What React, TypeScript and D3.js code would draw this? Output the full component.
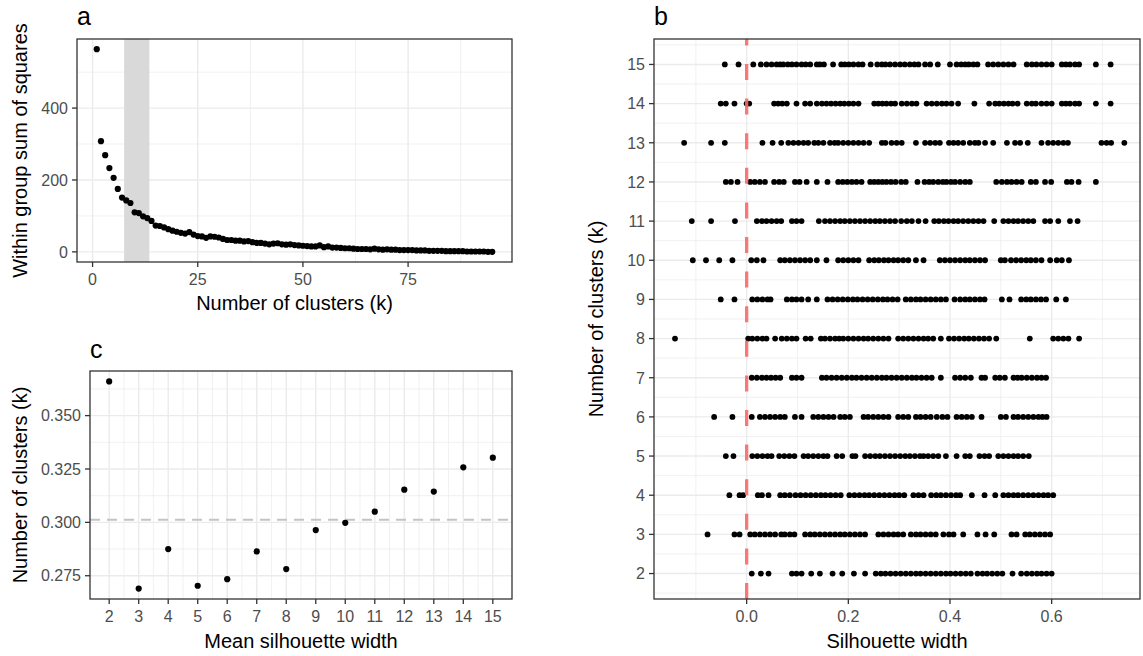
import React from 'react';
import * as d3 from 'd3';

// panel a: within group sum of squares for k = 1..95
const wss = [
  564, 308, 269, 233, 206, 175, 151, 143, 136, 110, 108, 99, 94, 86, 73, 72, 68, 63, 59, 56,
  53, 51, 55, 48, 44, 43, 39, 43, 42, 40, 36, 33, 33, 31, 31, 29, 30, 27, 25, 25,
  23, 21, 23, 24, 21, 20, 21, 19, 18, 17, 16, 15, 15, 18, 13, 15, 12, 12, 11, 10,
  10, 9, 8, 8, 8, 7, 9, 7, 6, 7, 6, 6, 5, 5, 5, 5, 4, 4, 4, 3,
  3, 3, 3, 2, 2, 2, 2, 2, 1, 1, 1, 1, 1, 0, 0,
];
const wssTicksX = [0, 25, 50, 75];
const wssTicksY = [0, 200, 400];
const elbowBand = [7.5, 13.5];

// panel c: mean silhouette width by k
const meanK = [2, 3, 4, 5, 6, 7, 8, 9, 10, 11, 12, 13, 14, 15];
const meanSil = [0.366, 0.269, 0.2875, 0.2703, 0.2734, 0.2864, 0.2781, 0.2964, 0.2998, 0.305, 0.3153, 0.3144, 0.3258, 0.3303];
const meanTicksY = [0.275, 0.3, 0.325, 0.35];

// panel b: silhouette width of every observation, by k
const sil15 = [-0.043, -0.016, 0.013, 0.028, 0.039, 0.049, 0.059, 0.066, 0.072, 0.081, 0.089, 0.098, 0.108, 0.116, 0.125, 0.138, 0.144, 0.152, 0.17, 0.186, 0.193, 0.201, 0.21, 0.22, 0.228, 0.244, 0.257, 0.266, 0.273, 0.282, 0.292, 0.302, 0.311, 0.321, 0.33, 0.338, 0.351, 0.361, 0.376, 0.4, 0.413, 0.422, 0.43, 0.437, 0.446, 0.454, 0.475, 0.485, 0.495, 0.505, 0.515, 0.525, 0.551, 0.561, 0.57, 0.58, 0.59, 0.6, 0.62, 0.628, 0.636, 0.646, 0.654, 0.687, 0.716];
const sil14 = [-0.051, -0.041, -0.024, 0.0, 0.005, 0.054, 0.062, 0.07, 0.079, 0.098, 0.115, 0.125, 0.138, 0.148, 0.157, 0.166, 0.175, 0.184, 0.192, 0.201, 0.21, 0.22, 0.251, 0.259, 0.267, 0.275, 0.284, 0.292, 0.305, 0.315, 0.325, 0.334, 0.354, 0.364, 0.374, 0.384, 0.393, 0.403, 0.416, 0.448, 0.477, 0.489, 0.497, 0.506, 0.515, 0.523, 0.533, 0.551, 0.561, 0.569, 0.58, 0.59, 0.6, 0.62, 0.628, 0.636, 0.646, 0.654, 0.687, 0.716];
const sil13 = [-0.123, -0.07, -0.043, 0.031, 0.051, 0.068, 0.082, 0.092, 0.102, 0.112, 0.121, 0.133, 0.141, 0.151, 0.164, 0.173, 0.18, 0.19, 0.2, 0.21, 0.22, 0.23, 0.241, 0.266, 0.273, 0.285, 0.295, 0.305, 0.333, 0.351, 0.361, 0.371, 0.38, 0.398, 0.407, 0.416, 0.426, 0.439, 0.449, 0.456, 0.469, 0.485, 0.512, 0.528, 0.538, 0.553, 0.58, 0.593, 0.603, 0.613, 0.623, 0.632, 0.698, 0.708, 0.717, 0.743];
const sil12 = [-0.041, -0.031, -0.018, 0.007, 0.016, 0.026, 0.036, 0.054, 0.064, 0.073, 0.095, 0.104, 0.118, 0.138, 0.159, 0.18, 0.189, 0.198, 0.207, 0.216, 0.226, 0.243, 0.251, 0.259, 0.267, 0.275, 0.284, 0.293, 0.304, 0.313, 0.336, 0.35, 0.359, 0.367, 0.377, 0.386, 0.393, 0.402, 0.41, 0.42, 0.43, 0.439, 0.491, 0.502, 0.512, 0.521, 0.531, 0.541, 0.559, 0.569, 0.587, 0.599, 0.63, 0.639, 0.653, 0.687];
const sil11 = [-0.108, -0.07, -0.023, 0.02, 0.03, 0.039, 0.049, 0.059, 0.068, 0.089, 0.098, 0.108, 0.142, 0.154, 0.164, 0.174, 0.184, 0.193, 0.203, 0.213, 0.223, 0.233, 0.243, 0.253, 0.262, 0.272, 0.282, 0.292, 0.304, 0.315, 0.325, 0.338, 0.352, 0.369, 0.378, 0.388, 0.397, 0.407, 0.416, 0.426, 0.436, 0.446, 0.456, 0.466, 0.487, 0.505, 0.515, 0.525, 0.534, 0.544, 0.554, 0.564, 0.587, 0.597, 0.613, 0.636, 0.651];
const sil10 = [-0.106, -0.08, -0.054, -0.028, 0.009, 0.02, 0.033, 0.066, 0.075, 0.085, 0.095, 0.105, 0.115, 0.125, 0.138, 0.157, 0.18, 0.19, 0.2, 0.21, 0.22, 0.241, 0.251, 0.26, 0.27, 0.279, 0.289, 0.298, 0.308, 0.318, 0.333, 0.348, 0.38, 0.39, 0.4, 0.41, 0.42, 0.43, 0.439, 0.449, 0.459, 0.469, 0.5, 0.508, 0.52, 0.53, 0.54, 0.55, 0.559, 0.569, 0.58, 0.597, 0.61, 0.62, 0.634];
const sil9 = [-0.051, -0.024, 0.011, 0.021, 0.031, 0.041, 0.047, 0.079, 0.089, 0.098, 0.108, 0.121, 0.138, 0.159, 0.169, 0.179, 0.189, 0.199, 0.209, 0.218, 0.228, 0.238, 0.248, 0.258, 0.268, 0.277, 0.287, 0.297, 0.313, 0.323, 0.333, 0.342, 0.352, 0.362, 0.372, 0.382, 0.392, 0.409, 0.42, 0.43, 0.439, 0.449, 0.459, 0.468, 0.502, 0.517, 0.54, 0.55, 0.559, 0.569, 0.579, 0.589, 0.609, 0.628];
const sil8 = [-0.141, 0.003, 0.011, 0.021, 0.031, 0.039, 0.056, 0.069, 0.079, 0.089, 0.098, 0.116, 0.126, 0.146, 0.154, 0.164, 0.174, 0.182, 0.19, 0.2, 0.21, 0.22, 0.23, 0.239, 0.249, 0.259, 0.269, 0.279, 0.298, 0.308, 0.318, 0.328, 0.338, 0.348, 0.357, 0.367, 0.382, 0.398, 0.408, 0.418, 0.428, 0.437, 0.447, 0.457, 0.467, 0.477, 0.491, 0.557, 0.603, 0.613, 0.623, 0.633, 0.654];
const sil7 = [0.01, 0.02, 0.03, 0.039, 0.048, 0.057, 0.066, 0.089, 0.098, 0.108, 0.148, 0.157, 0.167, 0.177, 0.187, 0.197, 0.207, 0.216, 0.226, 0.236, 0.246, 0.256, 0.266, 0.275, 0.285, 0.295, 0.305, 0.315, 0.325, 0.334, 0.344, 0.354, 0.364, 0.382, 0.41, 0.42, 0.43, 0.441, 0.462, 0.469, 0.489, 0.498, 0.508, 0.525, 0.533, 0.541, 0.551, 0.561, 0.571, 0.58, 0.589];
const sil6 = [-0.064, -0.028, 0.01, 0.026, 0.036, 0.046, 0.056, 0.066, 0.075, 0.095, 0.108, 0.131, 0.141, 0.151, 0.161, 0.171, 0.184, 0.193, 0.203, 0.23, 0.239, 0.249, 0.259, 0.269, 0.279, 0.298, 0.308, 0.318, 0.333, 0.342, 0.352, 0.362, 0.374, 0.385, 0.395, 0.413, 0.423, 0.433, 0.443, 0.462, 0.5, 0.51, 0.525, 0.534, 0.544, 0.554, 0.564, 0.574, 0.582, 0.59];
const sil5 = [-0.041, -0.026, 0.011, 0.021, 0.031, 0.041, 0.049, 0.064, 0.074, 0.084, 0.094, 0.112, 0.121, 0.131, 0.141, 0.151, 0.159, 0.177, 0.188, 0.208, 0.214, 0.233, 0.243, 0.253, 0.262, 0.272, 0.282, 0.292, 0.302, 0.312, 0.321, 0.331, 0.341, 0.348, 0.357, 0.367, 0.377, 0.392, 0.413, 0.43, 0.439, 0.458, 0.468, 0.477, 0.495, 0.505, 0.515, 0.525, 0.534, 0.544, 0.555];
const sil4 = [-0.034, -0.014, -0.007, 0.022, 0.03, 0.043, 0.066, 0.075, 0.085, 0.096, 0.106, 0.116, 0.126, 0.136, 0.146, 0.155, 0.165, 0.175, 0.185, 0.202, 0.212, 0.222, 0.232, 0.241, 0.251, 0.261, 0.271, 0.281, 0.291, 0.3, 0.31, 0.328, 0.338, 0.348, 0.363, 0.373, 0.382, 0.392, 0.402, 0.412, 0.42, 0.443, 0.468, 0.489, 0.505, 0.515, 0.525, 0.534, 0.544, 0.554, 0.564, 0.574, 0.584, 0.593, 0.603];
const sil3 = [-0.077, -0.024, -0.014, 0.007, 0.016, 0.026, 0.036, 0.046, 0.056, 0.068, 0.075, 0.085, 0.094, 0.115, 0.125, 0.134, 0.144, 0.154, 0.164, 0.174, 0.184, 0.193, 0.203, 0.213, 0.223, 0.233, 0.259, 0.269, 0.279, 0.289, 0.298, 0.308, 0.323, 0.333, 0.342, 0.352, 0.362, 0.372, 0.387, 0.398, 0.407, 0.426, 0.454, 0.47, 0.487, 0.521, 0.531, 0.548, 0.557, 0.567, 0.577, 0.587, 0.597];
const sil2 = [0.01, 0.028, 0.043, 0.089, 0.098, 0.108, 0.127, 0.144, 0.169, 0.188, 0.211, 0.233, 0.254, 0.264, 0.273, 0.283, 0.293, 0.303, 0.313, 0.323, 0.333, 0.342, 0.352, 0.362, 0.372, 0.382, 0.392, 0.401, 0.411, 0.421, 0.431, 0.441, 0.454, 0.464, 0.473, 0.483, 0.493, 0.503, 0.523, 0.54, 0.551, 0.561, 0.571, 0.58, 0.59, 0.6];
const silRows = [
  { k: 15, values: sil15 }, { k: 14, values: sil14 }, { k: 13, values: sil13 }, { k: 12, values: sil12 },
  { k: 11, values: sil11 }, { k: 10, values: sil10 }, { k: 9, values: sil9 }, { k: 8, values: sil8 },
  { k: 7, values: sil7 }, { k: 6, values: sil6 }, { k: 5, values: sil5 }, { k: 4, values: sil4 },
  { k: 3, values: sil3 }, { k: 2, values: sil2 },
];
const silTicksX = [0, 0.2, 0.4, 0.6];
const silTicksY = [2, 3, 4, 5, 6, 7, 8, 9, 10, 11, 12, 13, 14, 15];

const FONT = "'Liberation Sans', Arial, Helvetica, sans-serif";
const GRID = '#ebebeb';
const BORDER = '#333333';
const TICK_TXT = '#4d4d4d';

const VGrid = ({ x, vals, top, bottom, w }) => (
  <g>
    {vals.map((v, i) => (
      <line key={i} x1={x(v)} x2={x(v)} y1={top} y2={bottom} stroke={GRID} strokeWidth={w} />
    ))}
  </g>
);
const HGrid = ({ y, vals, left, right, w }) => (
  <g>
    {vals.map((v, i) => (
      <line key={i} x1={left} x2={right} y1={y(v)} y2={y(v)} stroke={GRID} strokeWidth={w} />
    ))}
  </g>
);

// ticks + labels on the left and bottom of a panel box
const Axes = ({ x, y, xTicks, yTicks, left, right, top, bottom, fmtX, fmtY }) => (
  <g fontFamily={FONT}>
    <rect x={left} y={top} width={right - left} height={bottom - top} fill="none" stroke={BORDER} strokeWidth={1.3} />
    {xTicks.map((t, i) => (
      <g key={'x' + i}>
        <line x1={x(t)} x2={x(t)} y1={bottom} y2={bottom + 5} stroke={BORDER} strokeWidth={1.3} />
        <text x={x(t)} y={bottom + 23} textAnchor="middle" fontSize={16} fill={TICK_TXT}>{fmtX(t)}</text>
      </g>
    ))}
    {yTicks.map((t, i) => (
      <g key={'y' + i}>
        <line x1={left - 5} x2={left} y1={y(t)} y2={y(t)} stroke={BORDER} strokeWidth={1.3} />
        <text x={left - 9} y={y(t)} dy="0.36em" textAnchor="end" fontSize={16} fill={TICK_TXT}>{fmtY(t)}</text>
      </g>
    ))}
  </g>
);

const App = () => {
  // ---------- panel a ----------
  const aL = 77, aR = 512, aT = 39, aB = 262;
  const ax = d3.scaleLinear().domain([-3.7, 99.7]).range([aL, aR]);
  const ay = d3.scaleLinear().domain([-28.2, 592.2]).range([aB, aT]);

  // ---------- panel c ----------
  const cL = 90, cR = 512, cT = 371, cB = 599;
  const cx = d3.scaleLinear().domain([1.35, 15.65]).range([cL, cR]);
  const cy = d3.scaleLinear().domain([0.2641, 0.3709]).range([cB, cT]);
  const silMean = d3.mean(meanSil);

  // ---------- panel b ----------
  const bL = 654, bR = 1140, bT = 39, bB = 599;
  const bx = d3.scaleLinear().domain([-0.1823, 0.7738]).range([bL, bR]);
  const by = d3.scaleLinear().domain([1.35, 15.65]).range([bB, bT]);

  return (
    <svg width={1143} height={656} style={{ position: 'absolute', left: 0, top: 0, background: '#fff' }} fontFamily={FONT}>
      <rect width={1143} height={656} fill="#fff" />

      {/* panel a */}
      <VGrid x={ax} vals={[12.5, 37.5, 62.5, 87.5]} top={aT} bottom={aB} w={0.7} />
      <HGrid y={ay} vals={[100, 300, 500]} left={aL} right={aR} w={0.7} />
      <VGrid x={ax} vals={wssTicksX} top={aT} bottom={aB} w={1.4} />
      <HGrid y={ay} vals={wssTicksY} left={aL} right={aR} w={1.4} />
      <rect x={ax(elbowBand[0])} y={aT} width={ax(elbowBand[1]) - ax(elbowBand[0])} height={aB - aT} fill="#d9d9d9" />
      {wss.map((v, i) => (
        <circle key={i} cx={ax(i + 1)} cy={ay(v)} r={3.1} fill="#000" />
      ))}
      <Axes x={ax} y={ay} xTicks={wssTicksX} yTicks={wssTicksY} left={aL} right={aR} top={aT} bottom={aB}
        fmtX={(t) => String(t)} fmtY={(t) => String(t)} />
      <text x={aL} y={25} fontSize={25}>a</text>
      <text x={(aL + aR) / 2} y={310} textAnchor="middle" fontSize={20}>Number of clusters (k)</text>
      <text transform={`translate(27,${(aT + aB) / 2}) rotate(-90)`} textAnchor="middle" fontSize={20}>Within group sum of squares</text>

      {/* panel c */}
      <VGrid x={cx} vals={d3.range(2.5, 15, 1)} top={cT} bottom={cB} w={0.7} />
      <HGrid y={cy} vals={[0.2875, 0.3125, 0.3375, 0.3625]} left={cL} right={cR} w={0.7} />
      <VGrid x={cx} vals={meanK} top={cT} bottom={cB} w={1.4} />
      <HGrid y={cy} vals={meanTicksY} left={cL} right={cR} w={1.4} />
      <line x1={cL} x2={cR} y1={cy(silMean)} y2={cy(silMean)} stroke="#c4c4c4" strokeWidth={2} strokeDasharray="10,7" />
      {meanSil.map((v, i) => (
        <circle key={i} cx={cx(meanK[i])} cy={cy(v)} r={3.1} fill="#000" />
      ))}
      <Axes x={cx} y={cy} xTicks={meanK} yTicks={meanTicksY} left={cL} right={cR} top={cT} bottom={cB}
        fmtX={(t) => String(t)} fmtY={d3.format('.3f')} />
      <text x={cL} y={358} fontSize={25}>c</text>
      <text x={(cL + cR) / 2} y={648} textAnchor="middle" fontSize={20}>Mean silhouette width</text>
      <text transform={`translate(27,${(cT + cB) / 2}) rotate(-90)`} textAnchor="middle" fontSize={20}>Number of clusters (k)</text>

      {/* panel b */}
      <VGrid x={bx} vals={[-0.1, 0.1, 0.3, 0.5, 0.7]} top={bT} bottom={bB} w={0.7} />
      <HGrid y={by} vals={d3.range(1.5, 16, 1)} left={bL} right={bR} w={0.7} />
      <VGrid x={bx} vals={silTicksX} top={bT} bottom={bB} w={1.4} />
      <HGrid y={by} vals={silTicksY} left={bL} right={bR} w={1.4} />
      {silRows.map((row) =>
        row.values.map((v, i) => (
          <circle key={row.k + '-' + i} cx={bx(v)} cy={by(row.k)} r={2.9} fill="#000" />
        ))
      )}
      <line x1={bx(0)} x2={bx(0)} y1={bB} y2={bT} stroke="#f8696b" strokeOpacity={0.9} strokeWidth={3.3} strokeDasharray="16,18.6" />
      <Axes x={bx} y={by} xTicks={silTicksX} yTicks={silTicksY} left={bL} right={bR} top={bT} bottom={bB}
        fmtX={d3.format('.1f')} fmtY={(t) => String(t)} />
      <text x={bL} y={25} fontSize={25}>b</text>
      <text x={(bL + bR) / 2} y={648} textAnchor="middle" fontSize={20}>Silhouette width</text>
      <text transform={`translate(603,${(bT + bB) / 2}) rotate(-90)`} textAnchor="middle" fontSize={20}>Number of clusters (k)</text>
    </svg>
  );
};

export default App;
